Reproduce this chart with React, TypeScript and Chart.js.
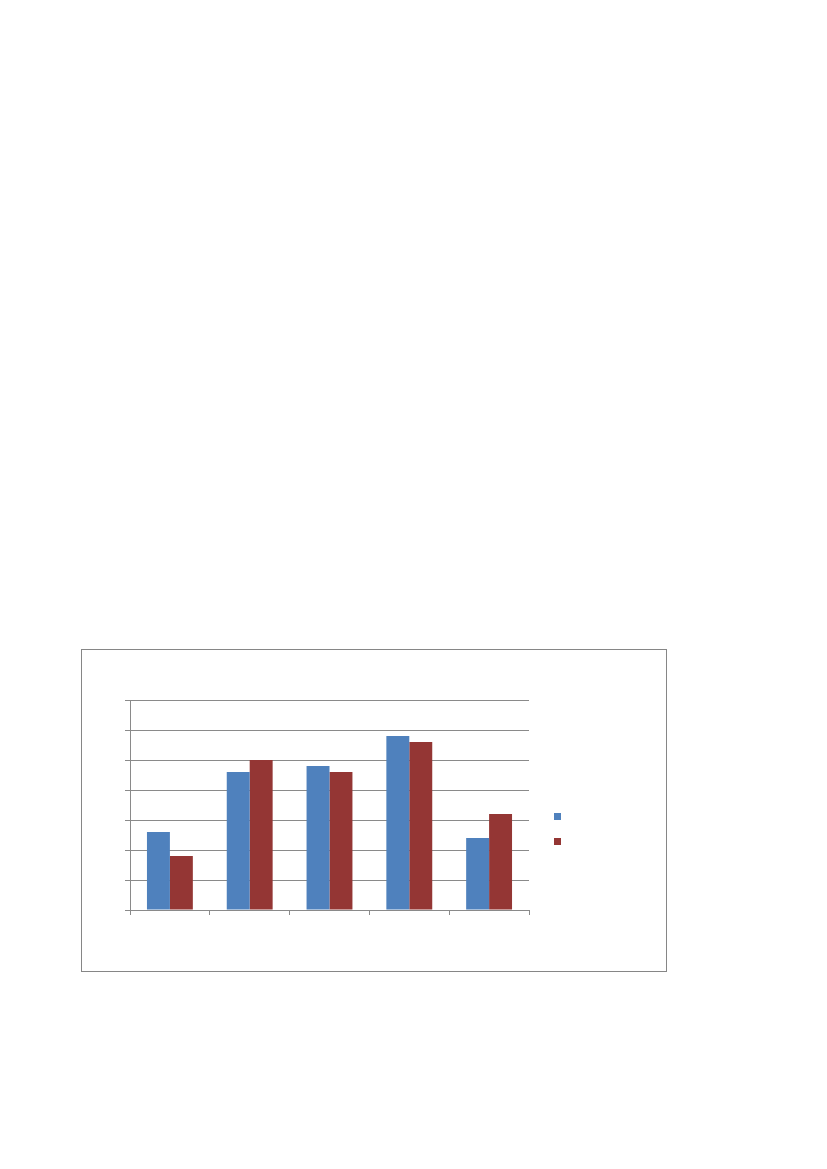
import React, { useEffect, useRef } from "react";
import { Chart, registerables } from "chart.js";

Chart.register(...registerables);

// no visible text in the reference: categories and series names are unlabeled
const categories = ["", "", "", "", ""];
const seriesNames = ["Series 1", "Series 2"];
const blueValues = [2.6, 4.6, 4.8, 5.8, 2.4];
const redValues = [1.8, 5.0, 4.6, 5.6, 3.2];
const yTicksMax = 7;
const yStep = 1;

const BLUE = "#4f81bd";
const RED = "#943634";
const GRID = "#8a8a8a";

const renderChart = (canvas: HTMLCanvasElement) => {
  const ctx = canvas.getContext("2d");
  if (!ctx) return;
  return new Chart(ctx, {
    type: "bar",
    data: {
      labels: categories,
      datasets: [
        {
          label: seriesNames[0],
          data: blueValues,
          backgroundColor: BLUE,
          borderWidth: 0,
          categoryPercentage: 0.575,
          barPercentage: 1,
        },
        {
          label: seriesNames[1],
          data: redValues,
          backgroundColor: RED,
          borderWidth: 0,
          categoryPercentage: 0.575,
          barPercentage: 1,
        },
      ],
    },
    options: {
      responsive: false,
      animation: false,
      layout: { padding: { left: 43, top: 50, right: 137, bottom: 56 } },
      plugins: {
        legend: { display: false },
        tooltip: { enabled: false },
        title: { display: false },
      },
      scales: {
        x: {
          grid: {
            display: true,
            drawOnChartArea: false,
            drawTicks: true,
            tickLength: 5,
            color: GRID,
            offset: true,
          },
          border: { display: true, color: GRID },
          ticks: { display: false },
        },
        y: {
          min: 0,
          max: yTicksMax,
          grid: { color: GRID, tickLength: 5, drawTicks: true },
          border: { display: true, color: GRID },
          ticks: { display: false, stepSize: yStep },
        },
      },
    },
  });
};

export default function App() {
  const canvasRef = useRef<HTMLCanvasElement>(null);
  useEffect(() => {
    if (!canvasRef.current) return;
    const chart = renderChart(canvasRef.current);
    return () => {
      chart?.destroy();
    };
  }, []);

  return (
    <div
      style={{
        position: "absolute",
        left: 81,
        top: 649,
        width: 586,
        height: 323,
        boxSizing: "border-box",
        border: "1px solid #868686",
        background: "#fff",
      }}
    >
      <canvas ref={canvasRef} width={584} height={321} style={{ display: "block" }} />
      {[BLUE, RED].map((c, i) => (
        <div
          key={i}
          style={{
            position: "absolute",
            left: 472,
            top: 163 + i * 25,
            width: 7,
            height: 7,
            background: c,
          }}
        />
      ))}
    </div>
  );
}
